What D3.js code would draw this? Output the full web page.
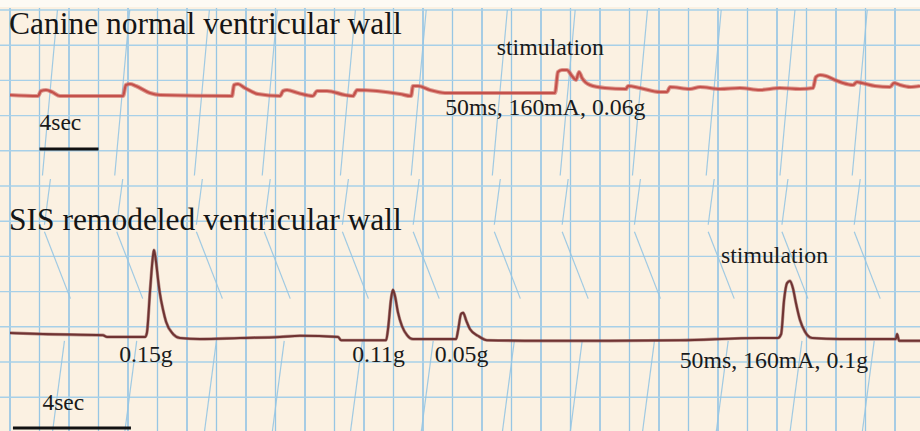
<!DOCTYPE html>
<html><head><meta charset="utf-8">
<script src="https://cdn.jsdelivr.net/npm/d3@7"></script>
<style>html,body{margin:0;padding:0;background:#fdfaf4;}svg{display:block;}</style>
</head><body><svg id="c" width="920" height="431"></svg>
<script>
// ---- data (time in seconds, force in g) ----
const topTime = [0,1.90,2.10,2.44,2.85,3.39,7.66,7.86,8.14,8.54,9.49,10.17,15.05,15.19,15.46,15.93,16.81,18.31,18.51,18.78,19.53,20.54,20.81,21.49,22.71,23.25,23.53,24.88,26.44,27.19,27.32,27.66,28.47,29.49,36.95,37.15,37.42,37.76,38.10,38.37,38.58,38.78,39.32,40.34,41.76,41.90,42.71,44.07,44.54,44.75,46.10,46.78,48.14,49.49,50.85,52.20,53.56,54.44,54.64,54.92,55.32,55.93,56.47,57.15,57.42,57.76,58.64,59.66,59.93,60.34,61.02,61.69];
const topForce = [0,-0.0025,0.01,0.0125,0.0075,-0.0025,-0.0025,0.025,0.0275,0.0225,0.005,0,-0.0025,0.025,0.0275,0.0175,0.0025,-0.0025,0.01,0.0125,0.005,-0.0025,0.01,0.01,0,-0.0025,0.0125,0.01,0.0025,-0.0025,0.0225,0.0225,0.0125,0.005,0.005,0.0575,0.0625,0.0625,0.0475,0.0375,0.0575,0.0425,0.025,0.0175,0.015,0.0225,0.0175,0.0075,0.0075,0.02,0.015,0.02,0.015,0.0175,0.0125,0.0175,0.015,0.0175,0.045,0.05,0.0475,0.0375,0.03,0.025,0.0325,0.03,0.0225,0.02,0.03,0.025,0.02,0.0225];
const bottomTime = [0,1.12,3.15,3.29,4.58,4.64,4.75,4.85,4.88,4.95,5.02,5.08,5.19,5.29,5.53,5.76,6.44,7.80,9.15,9.83,11.12,11.22,12.75,12.81,12.92,12.98,13.05,13.15,13.29,13.46,13.66,15.12,15.19,15.29,15.36,15.46,15.59,15.86,16.17,17.97,20.34,22.71,25.42,26.03,26.14,26.24,26.34,26.44,26.54,26.64,26.78,26.95,27.19,28.14,30.03,30.07,30.14,30.85];
const bottomForce = [0.009,0.007,0.005,0.002,0.002,0.009,0.086,0.148,0.157,0.136,0.104,0.080,0.050,0.029,0.007,0,-0.002,0,0.002,0.004,0.002,-0.004,-0.004,0.014,0.071,0.086,0.075,0.046,0.021,0.005,-0.002,-0.002,0.014,0.043,0.045,0.032,0.016,0.004,-0.004,-0.005,-0.005,-0.004,0,0,0.007,0.068,0.098,0.102,0.089,0.063,0.032,0.011,0,-0.002,-0.002,0.007,-0.005,-0.005];
const panelTitles = ["Canine normal ventricular wall", "SIS remodeled ventricular wall"];
const topNotes = [{t:33.0, v:0.1, text:"stimulation"}, {t:29.5, v:-0.05, text:"50ms, 160mA, 0.06g"}];
const bottomNotes = [{t:3.7, v:-0.043, text:"0.15g"},{t:11.6, v:-0.043, text:"0.11g"},{t:14.4, v:-0.043, text:"0.05g"},{t:24.1, v:0.134, text:"stimulation"},{t:22.7, v:-0.054, text:"50ms, 160mA, 0.1g"}];
const scaleBarSec = 4;
// time-marker pen strokes (top-panel time, seconds)
const markerTimes = [2.2,7.1,12.5,17.1,22.4,27.2,32.7,37.3,42.2,47.2,52.2,57.1];

// ---- scales ----
const W = 920, H = 431;
const svg = d3.select("#c");
const xTop = d3.scaleLinear().domain([0, 62]).range([10, 10 + 62*14.75]);
const xBot = d3.scaleLinear().domain([0, 31]).range([10, 10 + 31*14.75*2]);
const yTop = d3.scaleLinear().domain([0, 0.06]).range([95, 71]);
const yBot = d3.scaleLinear().domain([0, 0.15]).range([338, 254]);
const yGrid = d3.scaleLinear().domain([0, 12]).range([10, 10 + 12*35.2]);

// paper
svg.append("rect").attr("x",0).attr("y",0).attr("width",W).attr("height",H).attr("fill","#fdfaf4");
svg.append("rect").attr("x",0).attr("y",7).attr("width",W).attr("height",H-7).attr("fill","#fbf1e2");

const g = svg.append("g");
// grid
const vTicks = d3.range(0, 64, 2);
g.selectAll("line.v").data(vTicks).join("line")
  .attr("x1", d=>xTop(d)).attr("x2", d=>xTop(d)).attr("y1", 8).attr("y2", H)
  .attr("stroke", "#97c6e4").attr("stroke-width", (d,i)=> i%2===0 ? 1.7 : 1.3);
const hTicks = d3.range(0, 13);
g.selectAll("line.h").data(hTicks).join("line")
  .attr("x1", 0).attr("x2", W).attr("y1", d=>yGrid(d)).attr("y2", d=>yGrid(d))
  .attr("stroke", "#a7d0e8").attr("stroke-width", 1.4);

// marker pen strokes
const mk = g.append("g").attr("stroke","#96c6e4").attr("stroke-width",1.2).attr("fill","none").attr("opacity",0.9);
markerTimes.forEach(t=>{
  const x0 = xTop(t);
  mk.append("path").attr("d", `M${x0},${yGrid(4.7)} L${x0+15},${yGrid(0)}`);
  mk.append("path").attr("d", `M${x0+8},${yGrid(4.8)} L${x0+2},${yGrid(6.1)}`);
  mk.append("path").attr("d", `M${x0+2},${yGrid(6.3)} L${x0+28},${yGrid(8.2)}`);
  mk.append("path").attr("d", `M${x0+22},${yGrid(9.4)} L${x0+10},${yGrid(12)}`);
});

// traces
const topData = topTime.map((t,i)=>[t, topForce[i]]);
const botData = bottomTime.map((t,i)=>[t, bottomForce[i]]);
const lineTop = d3.line().x(d=>xTop(d[0])).y(d=>yTop(d[1])).curve(d3.curveMonotoneX);
const lineBot = d3.line().x(d=>xBot(d[0])).y(d=>yBot(d[1])).curve(d3.curveMonotoneX);
g.append("path").attr("d", lineTop(topData)).attr("fill","none").attr("stroke","#d0706a").attr("stroke-width",4.2).attr("stroke-linejoin","round").attr("opacity",0.7);
g.append("path").attr("d", lineTop(topData)).attr("fill","none").attr("stroke","#c4514b").attr("stroke-width",2.2).attr("stroke-linejoin","round");
g.append("path").attr("d", lineBot(botData)).attr("fill","none").attr("stroke","#8e5150").attr("stroke-width",3.2).attr("stroke-linejoin","round").attr("opacity",0.6);
g.append("path").attr("d", lineBot(botData)).attr("fill","none").attr("stroke","#6f3332").attr("stroke-width",2).attr("stroke-linejoin","round");

// titles
const font = "'Liberation Serif','Times New Roman',serif";
svg.append("text").attr("x",9).attr("y",34).text(panelTitles[0]).attr("font-family",font).attr("font-size",31.5).attr("fill","#151515");
svg.append("text").attr("x",9).attr("y",230).text(panelTitles[1]).attr("font-family",font).attr("font-size",31.5).attr("fill","#151515");

// notes
topNotes.forEach(n=>svg.append("text").attr("x",xTop(n.t)).attr("y",yTop(n.v)).text(n.text).attr("font-family",font).attr("font-size",23.8).attr("fill","#1a1a1a"));
bottomNotes.forEach(n=>svg.append("text").attr("x",xBot(n.t)).attr("y",yBot(n.v)).text(n.text).attr("font-family",font).attr("font-size",23.8).attr("fill","#1a1a1a"));

// scale bars
svg.append("text").attr("x",xTop(2)).attr("y",130).text(scaleBarSec+"sec").attr("font-family",font).attr("font-size",23.5).attr("fill","#1a1a1a");
svg.append("line").attr("x1",xTop(2)).attr("x2",xTop(2+scaleBarSec)).attr("y1",149).attr("y2",149).attr("stroke","#111").attr("stroke-width",3);
svg.append("text").attr("x",xBot(1.1)).attr("y",410).text(scaleBarSec+"sec").attr("font-family",font).attr("font-size",23.5).attr("fill","#1a1a1a");
svg.append("line").attr("x1",xBot(0.1)).attr("x2",xBot(0.1+scaleBarSec)).attr("y1",428).attr("y2",428).attr("stroke","#111").attr("stroke-width",3);
</script></body></html>
